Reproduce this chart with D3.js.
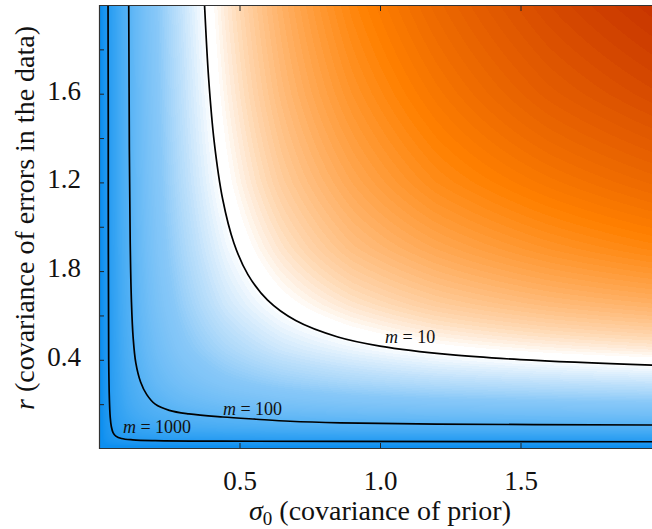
<!DOCTYPE html>
<html>
<head>
<meta charset="utf-8">
<script src="https://cdn.jsdelivr.net/npm/d3@7"></script>
<style>
  body { margin: 0; background: #fff; }
  svg { display: block; }
</style>
</head>
<body>
<div id="chart"></div>
<script>
// grid nodes where log10(m) was read (sigma0 across, r down)
const sigmaNodes = [0.01, 0.02, 0.04, 0.07, 0.1, 0.15, 0.2, 0.3, 0.45, 0.65, 0.9, 1.2, 1.6, 2.0];
const rNodes = [0.01, 0.02, 0.04, 0.07, 0.1, 0.15, 0.2, 0.3, 0.45, 0.65, 0.9, 1.2, 1.6, 2.0];

// log10(m) at the grid nodes, one row per r node
const logM = [
  [4.60, 4.35, 4.19, 4.12, 4.08, 4.06, 4.04, 4.03, 4.02, 4.01, 4.01, 4.01, 4.01, 4.00],
  [4.35, 4.00, 3.75, 3.62, 3.56, 3.51, 3.48, 3.45, 3.44, 3.42, 3.42, 3.41, 3.41, 3.41],
  [4.19, 3.75, 3.40, 3.19, 3.09, 3.00, 2.95, 2.90, 2.87, 2.85, 2.83, 2.82, 2.82, 2.81],
  [4.12, 3.62, 3.19, 2.91, 2.77, 2.64, 2.57, 2.49, 2.44, 2.40, 2.37, 2.36, 2.35, 2.34],
  [4.08, 3.56, 3.09, 2.77, 2.60, 2.44, 2.35, 2.25, 2.17, 2.12, 2.09, 2.07, 2.05, 2.04],
  [4.06, 3.51, 3.00, 2.64, 2.44, 2.25, 2.13, 2.00, 1.90, 1.83, 1.78, 1.75, 1.73, 1.71],
  [4.04, 3.48, 2.95, 2.57, 2.35, 2.13, 2.00, 1.84, 1.72, 1.63, 1.57, 1.53, 1.50, 1.48],
  [4.03, 3.45, 2.90, 2.49, 2.25, 2.00, 1.84, 1.65, 1.49, 1.38, 1.30, 1.24, 1.20, 1.17],
  [4.02, 3.44, 2.87, 2.44, 2.17, 1.90, 1.72, 1.49, 1.30, 1.15, 1.05, 0.97, 0.91, 0.87],
  [4.01, 3.42, 2.85, 2.40, 2.12, 1.83, 1.63, 1.38, 1.15, 0.98, 0.85, 0.75, 0.67, 0.62],
  [4.01, 3.42, 2.83, 2.37, 2.09, 1.78, 1.57, 1.30, 1.05, 0.85, 0.69, 0.58, 0.48, 0.41],
  [4.01, 3.41, 2.82, 2.36, 2.07, 1.75, 1.53, 1.24, 0.97, 0.75, 0.58, 0.44, 0.33, 0.25],
  [4.01, 3.41, 2.82, 2.35, 2.05, 1.73, 1.50, 1.20, 0.91, 0.67, 0.48, 0.33, 0.19, 0.10],
  [4.00, 3.41, 2.81, 2.34, 2.04, 1.71, 1.48, 1.17, 0.87, 0.62, 0.41, 0.25, 0.10, 0.00]
];

// contour lines [sigma0, r]
const contourLevels = [10, 100, 1000];
const m10Line = [[0.374, 2.05], [0.376, 1.99], [0.39, 1.672], [0.41, 1.383], [0.44, 1.125],
  [0.48, 0.927], [0.53, 0.784], [0.60, 0.669], [0.70, 0.577], [0.85, 0.503], [1.0, 0.462],
  [1.25, 0.423], [1.5, 0.401], [1.968, 0.376], [2.05, 0.373]];
const m100Line = [[0.105, 2.05], [0.1058, 2.0], [0.108, 1.35], [0.111, 0.93], [0.1155, 0.66],
  [0.1215, 0.50], [0.131, 0.386], [0.148, 0.30], [0.17, 0.243], [0.2, 0.2], [0.25, 0.172],
  [0.32, 0.156], [0.44, 0.142], [0.56, 0.132], [0.68, 0.123], [0.86, 0.116], [1.2, 0.110],
  [1.968, 0.106], [2.05, 0.105]];
const m1000Line = [[0.031, 2.05], [0.0322, 2.0], [0.033, 1.12], [0.0345, 0.40], [0.037, 0.22],
  [0.040, 0.14], [0.044, 0.098], [0.050, 0.072], [0.060, 0.056], [0.080, 0.045], [0.12, 0.039],
  [0.20, 0.0355], [0.44, 0.033], [0.86, 0.0318], [1.968, 0.0305], [2.05, 0.0305]];
const contourLines = [m10Line, m100Line, m1000Line];

// label anchors for the contour labels [sigma0, r]
const labelAnchors = [[1.018, 0.475], [0.441, 0.152], [0.085, 0.070]];

// ticks
const xTicks = [0.5, 1.0, 1.5];
const xTickLabels = ["0.5", "1.0", "1.5"];
const yTicks = [0.2, 0.4, 0.6, 0.8, 1.0, 1.2, 1.4, 1.6, 1.8];
const yLabelValues = [0.4, 0.8, 1.2, 1.6];
const yTickLabels = ["0.4", "1.8", "1.2", "1.6"];

// colour stops over log10(m)
const colorStops = [0, 0.15, 0.38, 0.6, 0.8, 0.95, 1.0, 1.08, 1.2, 1.45, 2.0, 2.5, 3.0, 4.0];
const colorValues = ["#c63300", "#de5500", "#ff8000", "#ffac5c", "#ffd8b2", "#ffffff", "#ffffff",
  "#e2f1fd", "#bfe1fb", "#88c8f8", "#55b2f5", "#36a4f3", "#2399f1", "#0e8fef"];

const width = 652, height = 529;
const plot = { left: 99, top: 5, right: 652, bottom: 449 };
const serif = "'Liberation Serif', 'Times New Roman', serif";

const x = d3.scaleLinear().domain([0, 2]).range([99, 661]);
const y = d3.scaleLinear().domain([0, 2]).range([448.5, 5]);
const color = d3.scaleLinear().domain(colorStops).range(colorValues)
  .interpolate(d3.interpolateRgb).clamp(true);

const svg = d3.select("#chart").append("svg")
  .attr("width", width).attr("height", height)
  .style("background", "#fff");

svg.append("defs").append("clipPath").attr("id", "plotclip")
  .append("rect")
  .attr("x", plot.left).attr("y", plot.top)
  .attr("width", plot.right - plot.left).attr("height", plot.bottom - plot.top);

// shaded field, banded like a filled contour plot
const pw = plot.right - plot.left, ph = plot.bottom - plot.top;
const canvas = document.createElement("canvas");
canvas.width = pw; canvas.height = ph;
const ctx = canvas.getContext("2d");
const img = ctx.createImageData(pw, ph);
const step = 0.02;
const cache = new Map();
const rowScales = logM.map(row => d3.scaleLog().domain(sigmaNodes).range(row).clamp(true));
for (let px = 0; px < pw; px++) {
  const s = x.invert(plot.left + px + 0.5);
  const colScale = d3.scaleLog().domain(rNodes).range(rowScales.map(f => f(s))).clamp(true);
  for (let py = 0; py < ph; py++) {
    const r = y.invert(plot.top + py + 0.5);
    const lvl = Math.floor(colScale(r) / step);
    let c = cache.get(lvl);
    if (!c) { c = d3.rgb(color((lvl + 0.5) * step)); cache.set(lvl, c); }
    const i = (py * pw + px) * 4;
    img.data[i] = c.r; img.data[i + 1] = c.g; img.data[i + 2] = c.b; img.data[i + 3] = 255;
  }
}
ctx.putImageData(img, 0, 0);
svg.append("image")
  .attr("x", plot.left).attr("y", plot.top)
  .attr("width", pw).attr("height", ph)
  .attr("preserveAspectRatio", "none")
  .attr("href", canvas.toDataURL());

// contour lines
const line = d3.line()
  .x(d => x(d[0])).y(d => y(d[1]))
  .curve(d3.curveCatmullRom.alpha(0.5));
svg.append("g").attr("clip-path", "url(#plotclip)")
  .selectAll("path")
  .data(contourLines)
  .join("path")
  .attr("d", line)
  .attr("fill", "none")
  .attr("stroke", "#000")
  .attr("stroke-width", 1.7);

// contour labels
const labels = svg.append("g")
  .attr("font-family", serif)
  .attr("font-size", 18)
  .attr("fill", "#111");
contourLevels.forEach((lev, i) => {
  const t = labels.append("text")
    .attr("x", x(labelAnchors[i][0]))
    .attr("y", y(labelAnchors[i][1]));
  t.append("tspan").attr("font-style", "italic").text("m");
  t.append("tspan").text(" = " + lev);
});

// axes (ticks point inward)
const xAxis = svg.append("g")
  .attr("transform", `translate(0,${plot.bottom})`)
  .call(d3.axisBottom(x).tickValues(xTicks).tickSize(-6).tickPadding(14)
    .tickFormat((d, i) => xTickLabels[i]));
const xAxisTop = svg.append("g")
  .attr("transform", `translate(0,${plot.top})`)
  .call(d3.axisTop(x).tickValues(xTicks).tickSize(-6).tickFormat(""));
const yAxis = svg.append("g")
  .attr("transform", `translate(${plot.left},0)`)
  .call(d3.axisLeft(y).tickValues(yTicks).tickSize(-5).tickPadding(18)
    .tickFormat(d => {
      const k = yLabelValues.findIndex(v => Math.abs(v - d) < 1e-9);
      return k < 0 ? "" : yTickLabels[k];
    }));

[xAxis, xAxisTop, yAxis].forEach(g => {
  g.select(".domain").remove();
  g.selectAll(".tick line").attr("stroke", "#222");
  g.selectAll(".tick text")
    .attr("font-family", serif)
    .attr("font-size", 27)
    .attr("fill", "#111");
});
xAxis.selectAll(".tick text").attr("dy", null).attr("y", 41);
yAxis.selectAll(".tick text").attr("dy", "0.2em");

// frame (left, bottom, top; right edge is cut by the image)
svg.append("path")
  .attr("d", `M${plot.right},${plot.top + 0.5}H${plot.left + 0.5}V${plot.bottom - 0.5}H${plot.right}`)
  .attr("fill", "none")
  .attr("stroke", "#333")
  .attr("stroke-width", 1.2);

// axis titles
const xTitle = svg.append("text")
  .attr("x", x(1.0)).attr("y", 520)
  .attr("text-anchor", "middle")
  .attr("font-family", serif).attr("font-size", 28).attr("fill", "#111");
xTitle.append("tspan").attr("font-style", "italic").text("σ");
xTitle.append("tspan").attr("font-size", 19).attr("dy", 5).text("0");
xTitle.append("tspan").attr("dy", -5).text(" (covariance of prior)");

const yTitle = svg.append("text")
  .attr("transform", `translate(34,${(plot.top + plot.bottom) / 2 - 9}) rotate(-90)`)
  .attr("text-anchor", "middle")
  .attr("font-family", serif).attr("font-size", 28).attr("fill", "#111");
yTitle.append("tspan").attr("font-style", "italic").text("r");
yTitle.append("tspan").text(" (covariance of errors in the data)");
</script>
</body>
</html>
